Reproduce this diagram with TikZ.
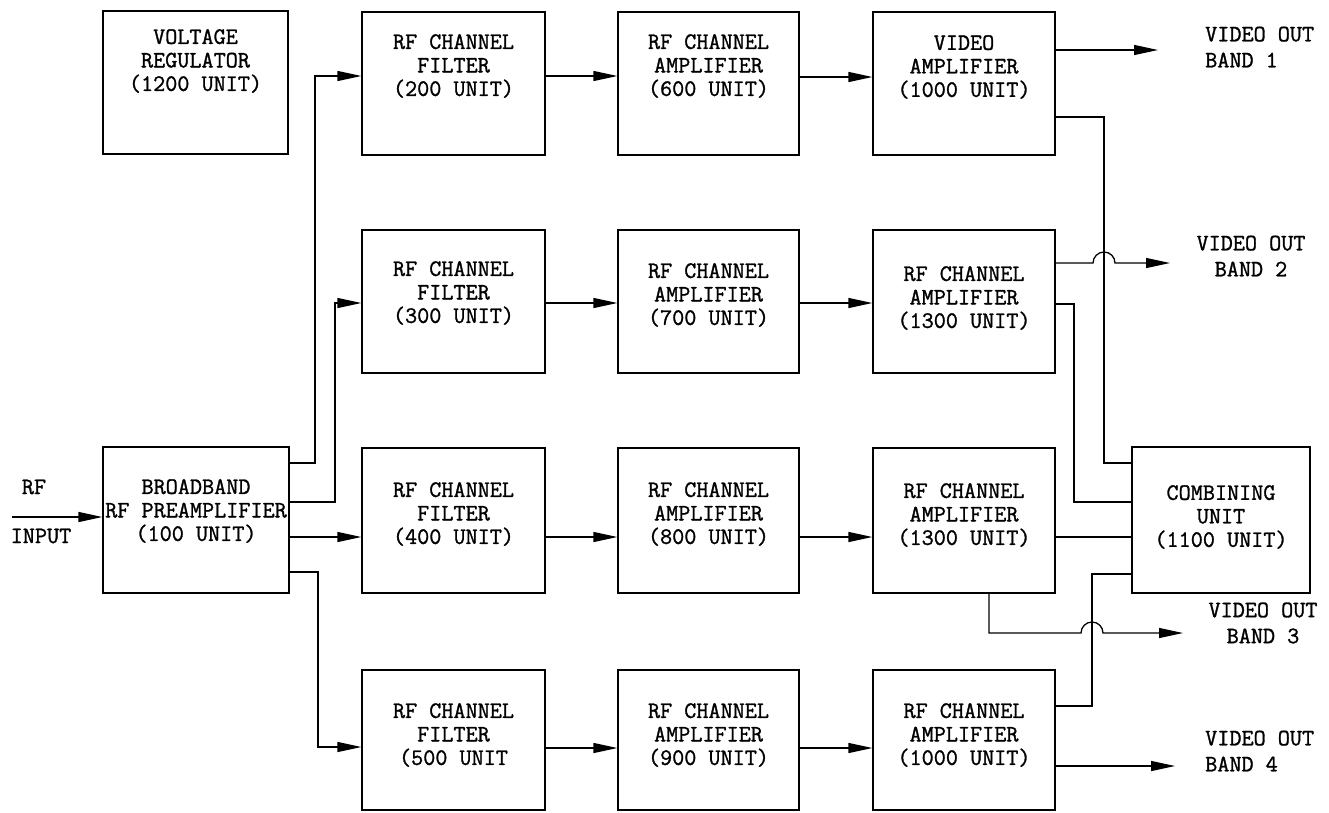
\documentclass[tikz,border=0pt]{standalone}
\usepackage{fontspec}
\newfontfamily\tw{Latin Modern Mono}[FakeBold=1.2]
\usetikzlibrary{arrows.meta}
\begin{document}
\begin{tikzpicture}[x=1pt,y=-1pt,
  blk/.style={draw, line width=1.3pt, rectangle, inner sep=0pt},
  txt/.style={font=\tw\fontsize{23.5}{23.5}\selectfont, align=center, inner sep=0pt},
  lbl/.style={font=\tw\fontsize{23.5}{26}\selectfont, inner sep=0pt},
  wire/.style={line width=1.3pt},
  arr/.style={wire, -{Triangle[length=24pt,width=10pt]}},
]
\useasboundingbox (0,0) rectangle (1329,812);
% boxes
\node[blk, minimum width=185pt, minimum height=143pt] (vr) at (195.5,82.5) {};
\node[blk, minimum width=186pt, minimum height=146pt] (pre) at (196,520) {};
\node[blk, minimum width=183pt, minimum height=143pt] (f1) at (453.5,83.5) {};
\node[blk, minimum width=181pt, minimum height=143pt] (a1) at (708.5,83.5) {};
\node[blk, minimum width=182pt, minimum height=143pt] (v1) at (964,83.5) {};
\node[blk, minimum width=183pt, minimum height=143pt] (f2) at (453.5,301.5) {};
\node[blk, minimum width=181pt, minimum height=143pt] (a2) at (708.5,301.5) {};
\node[blk, minimum width=182pt, minimum height=143pt] (v2) at (964,301.5) {};
\node[blk, minimum width=183pt, minimum height=145pt] (f3) at (453.5,520.5) {};
\node[blk, minimum width=181pt, minimum height=145pt] (a3) at (708.5,520.5) {};
\node[blk, minimum width=182pt, minimum height=145pt] (v3) at (964,520.5) {};
\node[blk, minimum width=183pt, minimum height=140pt] (f4) at (453.5,740) {};
\node[blk, minimum width=181pt, minimum height=140pt] (a4) at (708.5,740) {};
\node[blk, minimum width=182pt, minimum height=140pt] (v4) at (964,740) {};
\node[blk, minimum width=178pt, minimum height=146pt] (comb) at (1221,520) {};
% texts
\node[txt] (vrt) at (195.5,61) {VOLTAGE\\REGULATOR\\(1200 UNIT)};
\node[txt] (pret) at (196,511) {BROADBAND\\RF PREAMPLIFIER\\(100 UNIT)};
\node[txt] (f1t) at (453.5,66) {RF CHANNEL\\FILTER\\(200 UNIT)};
\node[txt] (a1t) at (708.5,66) {RF CHANNEL\\AMPLIFIER\\(600 UNIT)};
\node[txt] (v1t) at (964,67) {VIDEO\\AMPLIFIER\\(1000 UNIT)};
\node[txt] (f2t) at (453.5,293) {RF CHANNEL\\FILTER\\(300 UNIT)};
\node[txt] (a2t) at (708.5,295) {RF CHANNEL\\AMPLIFIER\\(700 UNIT)};
\node[txt] (v2t) at (964,298) {RF CHANNEL\\AMPLIFIER\\(1300 UNIT)};
\node[txt] (f3t) at (453.5,514) {RF CHANNEL\\FILTER\\(400 UNIT)};
\node[txt] (a3t) at (708.5,514) {RF CHANNEL\\AMPLIFIER\\(800 UNIT)};
\node[txt] (v3t) at (964,515) {RF CHANNEL\\AMPLIFIER\\(1300 UNIT)};
\node[txt] (f4t) at (453.5,735) {RF CHANNEL\\FILTER\\(500 UNIT};
\node[txt] (a4t) at (708.5,735) {RF CHANNEL\\AMPLIFIER\\(900 UNIT)};
\node[txt] (v4t) at (964,735) {RF CHANNEL\\AMPLIFIER\\(1000 UNIT)};
\node[txt] (combt) at (1221,517) {COMBINING\\UNIT\\(1100 UNIT)};
% labels
\node[lbl] (rf) at (34,487) {RF};
\node[lbl] (inp) at (41,536) {INPUT};
\node[lbl, align=left, anchor=west] (b1) at (1205,47) {VIDEO OUT\\BAND 1};
\node[lbl, align=center] (b2) at (1251,256) {VIDEO OUT\\BAND 2};
\node[lbl, align=center] (b3) at (1263,623) {VIDEO OUT\\BAND 3};
\node[lbl, align=left, anchor=west] (b4) at (1205,751) {VIDEO OUT\\BAND 4};
% input
\coordinate (rfin) at (12,517);
\draw[arr] (rfin) -- (rfin -| pre.west);
% preamp outputs
\draw[arr] (pre.east |- 0,463) -| (315,76) -- (f1.west |- 0,76);
\draw[arr] (pre.east |- 0,502) -| (335,303) -- (f2.west |- 0,303);
\draw[arr] (pre.east |- 0,537) -- (f3.west |- 0,537);
\draw[arr] (pre.east |- 0,572) -| (318,747) -- (f4.west |- 0,747);
% row chains
\draw[arr] (f1.east |- 0,76) -- (a1.west |- 0,76);
\draw[arr] (a1.east |- 0,77) -- (v1.west |- 0,77);
\draw[arr] (f2.east |- 0,303) -- (a2.west |- 0,303);
\draw[arr] (a2.east |- 0,303) -- (v2.west |- 0,303);
\draw[arr] (f3.east |- 0,537) -- (a3.west |- 0,537);
\draw[arr] (a3.east |- 0,537) -- (v3.west |- 0,537);
\draw[arr] (f4.east |- 0,748) -- (a4.west |- 0,748);
\draw[arr] (a4.east |- 0,748) -- (v4.west |- 0,748);
% outputs
\coordinate (o1) at (1158,50);
\coordinate (o2) at (1170,263);
\coordinate (o3) at (1183,633);
\coordinate (o4) at (1175,766);
\draw[arr] (v1.east |- o1) -- (o1);
\draw[wire] (v1.east |- 0,117) -| (1104,463) -- (comb.west |- 0,463);
\draw[arr] (v2.east |- o2) -- (1093,263) arc[start angle=180, end angle=0, radius=11pt] -- (o2);
\draw[wire] (v2.east |- 0,304) -| (1074,502) -- (comb.west |- 0,502);
\draw[wire] (v3.east |- 0,537) -- (comb.west |- 0,537);
\draw[arr] (v3.south -| 989,0) |- (1081,633) arc[start angle=180, end angle=0, radius=11pt] -- (o3);
\draw[wire] (v4.east |- 0,706) -| (1092,574) -- (comb.west |- 0,574);
\draw[arr] (v4.east |- o4) -- (o4);
\end{tikzpicture}
\end{document}
